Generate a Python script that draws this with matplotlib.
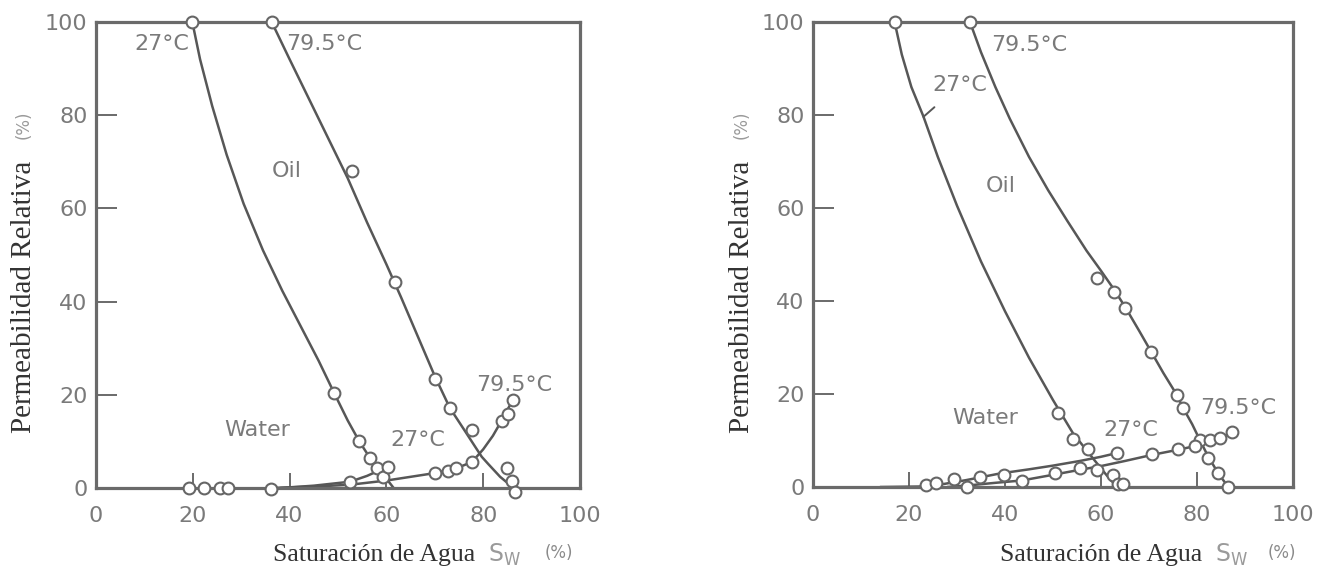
import matplotlib
matplotlib.use("Agg")
import matplotlib.pyplot as plt

# ---------------- data ----------------
ticks = [0, 20, 40, 60, 80, 100]

# Left panel
L_oil27_sw = [19.9, 21.5, 24, 27, 30.5, 34.5, 38.5, 42.5, 46, 49.2, 52, 54.4, 56.7, 58.3, 60, 61.5]
L_oil27_kr = [100, 92, 82, 71.5, 61, 51, 42.3, 34.3, 27.3, 20.4, 14.5, 10, 6.3, 4.2, 2, 0]
L_oil79_sw = [36.3, 40, 44, 48, 52, 56, 60, 63, 66.5, 70, 73.1, 76, 78.5, 79.7, 81, 83.5, 86.3]
L_oil79_kr = [100, 92, 83.5, 75, 66.5, 57, 48, 41, 32.5, 24, 17.2, 12.6, 8.6, 6.7, 5.2, 2.4, 0]
L_wat27_sw = [38, 45, 52.5, 56, 60.3]
L_wat27_kr = [0, 0.5, 1.35, 2.6, 4.6]
L_wat79_sw = [36, 45, 52.5, 60, 65, 70, 74.4, 77.7, 80, 82, 84, 86.1]
L_wat79_kr = [0, 0.3, 0.7, 1.6, 2.4, 3.2, 4.2, 5.6, 8.3, 11.2, 14.8, 18.9]

L_oil27_pts_sw = [19.9, 49.2, 54.4, 56.6, 58.1, 59.3]
L_oil27_pts_kr = [100, 20.4, 10.0, 6.4, 4.3, 2.4]
L_oil79_pts_sw = [36.3, 52.9, 61.7, 70.0, 73.2, 77.7, 84.9, 86.0, 86.6]
L_oil79_pts_kr = [100, 68, 44.1, 23.3, 17.2, 12.4, 4.3, 1.5, -0.8]
L_wat27_pts_sw = [52.4, 60.3]
L_wat27_pts_kr = [1.3, 4.6]
L_wat79_pts_sw = [19.3, 22.3, 25.7, 27.2, 36.1, 70.0, 72.7, 74.4, 77.7, 83.9, 85.1, 86.1]
L_wat79_pts_kr = [0, 0, 0, 0, -0.3, 3.2, 3.6, 4.3, 5.6, 14.4, 15.9, 18.9]

# Right panel
R_oil27_sw = [17, 18.5, 20.5, 23, 26, 30, 35, 40, 45, 50, 54.2, 57.3, 60, 62, 63.5]
R_oil27_kr = [100, 93, 86, 79.7, 71, 60.5, 48.5, 37.8, 27.8, 18.7, 11.5, 7.5, 4, 1.5, 0]
R_oil79_sw = [32.7, 35, 38, 41, 45, 49, 53, 57, 60, 62.7, 65.1, 68, 70.5, 73, 75.8, 77.1, 79, 80.5, 82.3, 84.4, 86.5]
R_oil79_kr = [100, 93.5, 86, 79.2, 71, 63.8, 57.2, 50.8, 46.5, 42.5, 38.6, 33.5, 29, 24.5, 19.8, 17, 13.5, 10.3, 6.6, 3, 0]
R_wat27_sw = [14, 22, 27, 32, 38.9, 45, 50, 55.6, 60, 63.3]
R_wat27_kr = [0, 0.1, 0.6, 1.5, 2.9, 3.8, 4.6, 5.6, 6.5, 7.3]
R_wat79_sw = [28, 33, 38, 43.5, 50.4, 55.6, 60, 65, 70.6, 76, 79.6, 82.7, 84.8, 87.3]
R_wat79_kr = [0, 0.4, 0.9, 1.4, 2.7, 3.7, 4.5, 5.6, 6.9, 8, 8.8, 10.1, 10.5, 11.8]

R_oil27_pts_sw = [17, 51, 54.2, 57.3, 59.2, 62.5, 63.5, 64.6]
R_oil27_pts_kr = [100, 15.9, 10.3, 8.2, 3.7, 2.6, 0.6, 0.6]
R_oil79_pts_sw = [32.7, 59.1, 62.7, 65.1, 70.5, 75.8, 77.1, 80.6, 82.3, 84.4, 86.5]
R_oil79_pts_kr = [100, 45, 42, 38.6, 29, 19.8, 17, 10.1, 6.2, 3, 0]
R_wat27_pts_sw = [23.6, 25.7, 29.4, 34.8, 39.8, 63.3]
R_wat27_pts_kr = [0.4, 0.8, 1.7, 2.2, 2.5, 7.3]
R_wat79_pts_sw = [32, 43.5, 50.4, 55.6, 70.6, 76, 79.6, 82.7, 84.8, 87.3]
R_wat79_pts_kr = [0, 1.3, 3.0, 4.1, 7.1, 8.2, 8.8, 10.1, 10.5, 11.8]

# ---------------- style ----------------
LINE = "#575757"
FRAME = "#6a6a6a"
GREY_TXT = "#7a7a7a"
SERIF_TXT = "#333333"
W, H = 1328, 572

fig = plt.figure(figsize=(W / 100, H / 100), dpi=100)
fig.patch.set_facecolor("white")


def px_axes(x0, x1, ytop, ybot):
    return fig.add_axes([x0 / W, 1 - ybot / H, (x1 - x0) / W, (ybot - ytop) / H])


def draw_panel(ax, curves, points):
    for sw, kr in curves:
        ax.plot(sw, kr, color=LINE, lw=1.8, zorder=2, solid_capstyle="round",
                solid_joinstyle="round")
    for sw, kr in points:
        ax.plot(sw, kr, ls="none", marker="o", ms=8.5, mfc="white", mec="#666666",
                mew=1.5, zorder=3, clip_on=False)
    ax.set_xlim(0, 100)
    ax.set_ylim(0, 100)
    ax.set_xticks(ticks)
    ax.set_yticks(ticks)
    ax.set_xticklabels([str(t) for t in ticks])
    ax.set_yticklabels([str(t) for t in ticks])
    for s in ax.spines.values():
        s.set_color(FRAME)
        s.set_linewidth(2.3)
    ax.tick_params(axis="y", direction="in", length=15, width=1.4, color=FRAME,
                   labelsize=16, labelcolor=GREY_TXT, pad=6)
    ax.tick_params(axis="x", direction="in", length=11, width=1.4, color=FRAME,
                   labelsize=16, labelcolor=GREY_TXT, pad=13)


def label(ax, x, y, s, ha="center"):
    ax.text(x, y, s, fontsize=16, color=GREY_TXT, ha=ha, va="center", zorder=4)


# Left panel
axL = px_axes(96, 580, 22, 488)
draw_panel(axL,
           [(L_oil27_sw, L_oil27_kr), (L_oil79_sw, L_oil79_kr),
            (L_wat27_sw, L_wat27_kr), (L_wat79_sw, L_wat79_kr)],
           [(L_oil27_pts_sw, L_oil27_pts_kr), (L_oil79_pts_sw, L_oil79_pts_kr),
            (L_wat27_pts_sw, L_wat27_pts_kr), (L_wat79_pts_sw, L_wat79_pts_kr)])
label(axL, 19.2, 95.2, "27°C", ha="right")
label(axL, 47.1, 95.2, "79.5°C")
label(axL, 39.4, 68, "Oil")
label(axL, 33.3, 12.4, "Water")
label(axL, 66.5, 10.4, "27°C")
label(axL, 86.4, 22.2, "79.5°C")

# Right panel
axR = px_axes(813, 1293, 22, 487)
draw_panel(axR,
           [(R_oil27_sw, R_oil27_kr), (R_oil79_sw, R_oil79_kr),
            (R_wat27_sw, R_wat27_kr), (R_wat79_sw, R_wat79_kr)],
           [(R_oil27_pts_sw, R_oil27_pts_kr), (R_oil79_pts_sw, R_oil79_pts_kr),
            (R_wat27_pts_sw, R_wat27_pts_kr), (R_wat79_pts_sw, R_wat79_pts_kr)])
label(axR, 45.0, 95.0, "79.5°C")
axR.annotate("27°C", xy=(23.0, 79.6), xytext=(30.5, 86.4), fontsize=16,
             color=GREY_TXT, ha="center", va="center",
             arrowprops=dict(arrowstyle="-", color=LINE, lw=1.4,
                             shrinkA=10, shrinkB=0))
label(axR, 39.2, 64.8, "Oil")
label(axR, 35.9, 14.9, "Water")
label(axR, 66.2, 12.2, "27°C")
label(axR, 88.5, 16.9, "79.5°C")

# Axis titles (serif + grey sans parts)
serif = ["Liberation Serif", "DejaVu Serif"]
for xc in (24, 742):
    fig.text(xc / W, 1 - 297 / H, "Permeabilidad Relativa", rotation=90,
             family=serif, fontsize=21, color=SERIF_TXT, ha="center", va="center")
    fig.text(xc / W, 1 - 125 / H, "(%)", rotation=90, fontsize=12,
             color="#9a9a9a", ha="center", va="center")

for x_end, x_s, x_pct in ((475, 488, 559), (1202, 1215, 1282)):
    fig.text(x_end / W, 1 - 555 / H, "Saturación de Agua", family=serif,
             fontsize=18.5, color=SERIF_TXT, ha="right", va="center")
    fig.text(x_s / W, 1 - 555 / H, r"$\mathregular{S_W}$", fontsize=17,
             color="#9a9a9a", ha="left", va="center")
    fig.text(x_pct / W, 1 - 553 / H, "(%)", fontsize=12,
             color="#8a8a8a", ha="center", va="center")

fig.savefig("out.png", dpi=100, facecolor="white")
